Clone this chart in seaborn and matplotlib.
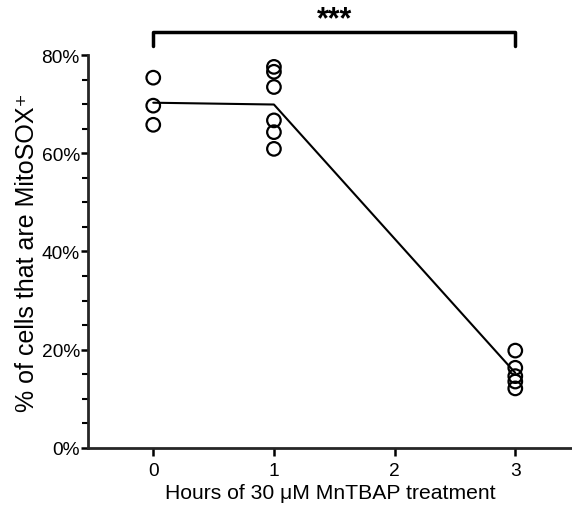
import matplotlib
matplotlib.use("Agg")
import matplotlib.pyplot as plt
import seaborn as sns
import pandas as pd
from matplotlib.ticker import MultipleLocator, FuncFormatter

sns.set_style("ticks")
plt.rcParams['font.family'] = ['Liberation Sans', 'DejaVu Sans']
plt.rcParams['text.color'] = 'black'
plt.rcParams['axes.labelcolor'] = 'black'
plt.rcParams['xtick.color'] = 'black'
plt.rcParams['ytick.color'] = 'black'

hours_0 = [75.4, 69.7, 65.8]
hours_1 = [77.6, 76.6, 73.5, 66.7, 64.3, 60.9]
hours_3 = [19.8, 16.3, 14.6, 13.5, 12.1]
hours = [0] * len(hours_0) + [1] * len(hours_1) + [3] * len(hours_3)
values = hours_0 + hours_1 + hours_3
df = pd.DataFrame({"hours": hours, "pct": values})

fig = plt.figure(figsize=(5.72, 5.10), dpi=100)
ax = fig.add_axes([0.154, 0.12, 0.846, 0.77])

sns.lineplot(data=df, x="hours", y="pct", estimator="mean", errorbar=None,
             color="black", linewidth=1.5, ax=ax)
sns.scatterplot(data=df, x="hours", y="pct", s=95, facecolor="none",
                edgecolor="black", linewidth=1.6, ax=ax, zorder=3)

ax.set_xlim(-0.54, 3.47)
ax.set_ylim(0, 80)
ax.set_xticks([0, 1, 2, 3])
ax.yaxis.set_major_locator(MultipleLocator(20))
ax.yaxis.set_minor_locator(MultipleLocator(5))
ax.yaxis.set_major_formatter(FuncFormatter(lambda v, p: f"{int(v)}%"))
ax.tick_params(axis="x", which="major", length=6, width=1.8, pad=4, labelsize=13.8)
ax.tick_params(axis="y", which="major", length=5, width=1.8, pad=1, labelsize=13.8)
ax.tick_params(axis="y", which="minor", length=4, width=1.5)
for s in ["left", "bottom"]:
    ax.spines[s].set_linewidth(2)
sns.despine(ax=ax)

ax.set_xlabel("Hours of 30 \u03bcM MnTBAP treatment", fontsize=15.2, labelpad=3)
ax.set_ylabel("% of cells that are MitoSOX\u207a", fontsize=18, labelpad=2)

# significance bracket
ax.plot([0, 0, 3, 3], [81.9, 84.7, 84.7, 81.9], color="black", lw=2.5, clip_on=False)
ax.text(1.5, 84.3, "***", ha="center", va="bottom", fontsize=22, fontweight="bold")

fig.savefig("out.png", dpi=100)
